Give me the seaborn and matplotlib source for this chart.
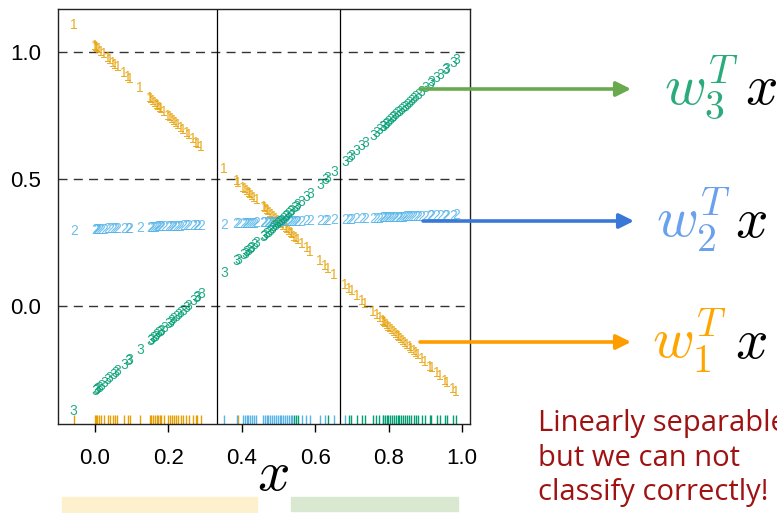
import numpy as np
import pandas as pd
import matplotlib
matplotlib.use("Agg")
import matplotlib.pyplot as plt
import seaborn as sns

x_class1 = [-0.058, 0.000, 0.003, 0.006, 0.011, 0.017, 0.025, 0.034, 0.040, 0.049,
            0.054, 0.061, 0.079, 0.090, 0.094, 0.122, 0.150, 0.153, 0.158, 0.163,
            0.168, 0.172, 0.177, 0.180, 0.188, 0.199, 0.204, 0.209, 0.214, 0.221,
            0.226, 0.233, 0.240, 0.249, 0.255, 0.267, 0.276, 0.279, 0.289, 0.390]
x_class2 = [0.352, 0.386, 0.404, 0.409, 0.413, 0.418, 0.422, 0.427, 0.434, 0.440,
            0.459, 0.462, 0.468, 0.471, 0.477, 0.483, 0.487, 0.492, 0.498, 0.503,
            0.507, 0.513, 0.519, 0.522, 0.528, 0.533, 0.536, 0.563, 0.576, 0.586,
            0.613, 0.627, 0.651, 0.681, 0.784]
x_class3 = [0.543, 0.548, 0.552, 0.634, 0.693, 0.699, 0.713, 0.727, 0.736, 0.758,
            0.767, 0.775, 0.786, 0.790, 0.795, 0.799, 0.804, 0.810, 0.814, 0.819,
            0.825, 0.829, 0.834, 0.840, 0.845, 0.851, 0.857, 0.862, 0.868, 0.874,
            0.881, 0.890, 0.899, 0.913, 0.917, 0.931, 0.940, 0.954, 0.958, 0.976,
            0.984]

# fitted regression lines w_k^T x (intercept, slope)
fit_intercepts = [1.031, 0.305, -0.331]
fit_slopes = [-1.385, 0.058, 1.327]

class_colors = {1: "#E69F00", 2: "#56B4E9", 3: "#009E73"}
y_ticks = [0.0, 0.5, 1.0]
x_ticks = [0.0, 0.2, 0.4, 0.6, 0.8, 1.0]
boundaries = [1 / 3, 2 / 3]
note = "Linearly separable\nbut we can not\nclassify correctly!"

df = pd.DataFrame({
    "x": x_class1 + x_class2 + x_class3,
    "cls": [1] * len(x_class1) + [2] * len(x_class2) + [3] * len(x_class3),
})
for k in (1, 2, 3):
    df[f"fit{k}"] = fit_intercepts[k - 1] + fit_slopes[k - 1] * df["x"]

plt.rcParams["mathtext.fontset"] = "cm"
fig = plt.figure(figsize=(7.77, 5.13), dpi=100)
ax = fig.add_axes([58 / 777, 1 - 424 / 513, 412 / 777, 415 / 513])

for y in y_ticks:
    ax.axhline(y, color="#333333", lw=1, ls=(0, (6.5, 4.5)), zorder=1)
for b in boundaries:
    ax.axvline(b, color="black", lw=0.9, zorder=1)

for k in (1, 2, 3):
    for xv, yv in zip(df["x"], df[f"fit{k}"]):
        ax.text(xv, yv, str(k), color=class_colors[k], alpha=0.85, fontsize=10,
                family="Liberation Sans", ha="center", va="center_baseline", zorder=3)

sns.rugplot(data=df, x="x", hue="cls", palette=class_colors, height=0.021,
            lw=1.4, legend=False, ax=ax, clip_on=False)

ax.set_xlim(-0.101, 1.022)
ax.set_ylim(-0.465, 1.169)
ax.set_xticks(x_ticks)
ax.set_xticklabels([f"{v:.1f}" for v in x_ticks], family="Liberation Sans", fontsize=16)
ax.set_yticks(y_ticks)
ax.set_yticklabels([f"{v:.1f}" for v in y_ticks], family="Liberation Sans", fontsize=16)
ax.tick_params(axis="x", length=6, width=1, pad=11)
ax.tick_params(axis="y", length=0, pad=12)
ax.set_xlabel("")
ax.set_ylabel("")
for s in ax.spines.values():
    s.set_color("#222222")
    s.set_linewidth(1)

W, H = 777, 513
def fp(px, py):
    return (px / W, 1 - py / H)

arrows = [((420, 89), (631, 89), "#6aaa4f"),
          ((423, 221), (634, 221), "#3a78d8"),
          ((420, 342), (631, 342), "#ff9d00")]
for start, end, col in arrows:
    ax.annotate("", xy=fp(*end), xytext=fp(*start), xycoords="figure fraction",
                textcoords="figure fraction",
                arrowprops=dict(arrowstyle="-|>", color=col, lw=2.6,
                                mutation_scale=22, shrinkA=0, shrinkB=0))

labels = [("$w_3^T$", "#2bab7b", 664, 104, 745),
          ("$w_2^T$", "#6aa0ee", 656, 237, 735),
          ("$w_1^T$", "#ffa500", 652, 358, 735)]
for lab, col, px, py, pxx in labels:
    fig.text(*fp(px, py), lab, color=col, fontsize=41, ha="left", va="baseline")
    fig.text(*fp(pxx, py), "$x$", color="black", fontsize=41, ha="left", va="baseline")

fig.text(*fp(273, 490), "$x$", color="black", fontsize=41, ha="center", va="baseline")

fig.text(*fp(538, 500), note, color="#a01212", fontsize=21, family="Open Sans",
         ha="left", va="baseline", linespacing=1.25)

fig.patches.append(plt.Rectangle(fp(62, 512), 195 / W, 15 / H, transform=fig.transFigure,
                                 color="#fdf0cc", zorder=0))
fig.patches.append(plt.Rectangle(fp(291, 511), 167 / W, 14 / H, transform=fig.transFigure,
                                 color="#d9e8d0", zorder=0))

fig.savefig("out.png", dpi=100)
